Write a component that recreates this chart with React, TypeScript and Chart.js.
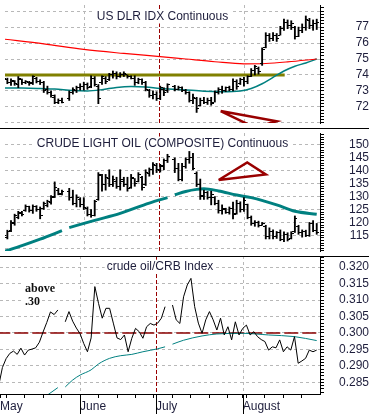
import React, { useEffect, useRef } from 'react';
import { Chart, registerables } from 'chart.js';

Chart.register(...registerables);

// ---------- x axis: weekday index (May 1 = 0 ... Aug 29 = 86) ----------
const X_MIN = 0.35;
const X_MAX = 86.9;
const monthTickIdx = [X_MIN, 22, 42.55, 66];
const monthLabels = ['May', 'June', 'July', 'August'];
const gridMonthIdx = [22, 66];
const markerIdx = 42.55;
const weekTicks = [2, 7, 12, 17, 27, 32, 37, 42, 47, 52, 57, 62, 67, 72, 77, 82];

const N = null;

// ---------- US dollar index (OHLC) ----------
const dxHigh = [73.85, 73.8, 73.75, 73.65, 73.9, 73.75, 73.65, 73.6, 73.95, 73.85, 73.7, 73.6, 73.3, 73.0, 72.75, 72.5, 72.55, N, 73.0, 73.2, 73.3, 73.45, 73.55, 73.5, 73.95, 73.9, 73.4, 73.95, 73.9, 74.1, 74.25, 74.2, 74.15, 74.2, 74.0, 73.95, 73.95, 73.8, 73.75, 73.6, 73.1, 73.0, 72.95, 73.3, 73.2, 73.45, N, 73.35, 73.3, 73.25, 73.1, 72.95, 72.8, 72.6, 72.55, 72.6, 72.55, 72.6, 73.0, 73.2, 73.3, 73.25, 73.3, 73.75, 73.7, 73.8, 73.85, 73.95, 74.4, 74.6, 74.5, 75.7, 76.65, 76.6, 76.65, 76.6, 77.05, 77.5, 77.45, 77.4, 77.05, 77.0, 77.2, 77.7, 77.55, 77.45, 77.5];
const dxLow = [73.5, 73.45, 73.35, 73.35, 73.2, 73.4, 73.45, 73.35, 73.4, 73.5, 73.4, 72.9, 72.8, 72.6, 72.2, 72.2, 72.25, N, 72.4, 72.8, 72.9, 73.05, 73.05, 73.1, 73.2, 73.3, 72.2, 73.4, 73.45, 73.65, 73.8, 73.75, 73.85, 73.9, 73.8, 73.75, 73.35, 73.45, 73.4, 73.0, 72.6, 72.5, 72.4, 72.45, 72.7, 72.9, N, 73.0, 73.05, 72.95, 72.8, 72.3, 72.2, 71.65, 72.05, 72.2, 72.15, 72.1, 72.3, 72.8, 72.85, 72.95, 73.0, 73.0, 73.1, 73.4, 73.3, 73.45, 73.9, 74.0, 74.05, 74.6, 75.7, 76.1, 76.15, 76.1, 76.5, 76.8, 76.9, 76.85, 76.25, 76.4, 76.65, 76.8, 76.9, 76.8, 76.85];
const dxOpen = [73.6, 73.7, 73.5, 73.6, 73.4, 73.7, 73.5, 73.55, 73.5, 73.8, 73.6, 73.5, 73.1, 72.9, 72.6, 72.3, 72.4, N, 72.5, 72.9, 73.0, 73.2, 73.3, 73.4, 73.3, 73.8, 73.3, 73.5, 73.8, 73.7, 74.0, 74.1, 73.9, 74.0, 74.0, 73.9, 73.8, 73.5, 73.7, 73.5, 73.0, 72.7, 72.8, 72.5, 73.1, 73.0, N, 73.3, 73.1, 73.2, 73.0, 72.9, 72.4, 72.5, 72.1, 72.4, 72.3, 72.4, 72.3, 72.9, 73.1, 73.0, 73.2, 73.1, 73.6, 73.45, 73.7, 73.6, 73.9, 74.3, 74.4, 74.7, 75.7, 76.5, 76.3, 76.5, 76.5, 76.9, 77.3, 77.1, 77.0, 76.4, 76.8, 77.0, 77.4, 77.1, 77.2];
const dxClose = [73.75, 73.55, 73.65, 73.45, 73.8, 73.5, 73.6, 73.45, 73.9, 73.6, 73.5, 73.0, 72.9, 72.7, 72.3, 72.4, 72.3, N, 72.9, 73.1, 73.2, 73.3, 73.4, 73.2, 73.8, 73.4, 72.5, 73.9, 73.6, 74.0, 74.1, 73.9, 74.0, 74.1, 73.9, 73.8, 73.5, 73.7, 73.5, 73.1, 72.7, 72.8, 72.5, 73.2, 72.9, 73.4, N, 73.1, 73.2, 73.0, 72.9, 72.4, 72.6, 71.9, 72.4, 72.3, 72.4, 72.2, 72.9, 73.1, 73.0, 73.2, 73.1, 73.6, 73.3, 73.7, 73.6, 73.9, 74.3, 74.5, 74.2, 75.6, 76.5, 76.3, 76.5, 76.3, 76.9, 77.3, 77.1, 77.2, 76.4, 76.8, 77.0, 77.5, 77.1, 77.2, 77.3];
const dxLongMaIdx = [0, 11, 22, 33, 43, 50, 58, 66, 72, 78, 86];
const dxLongMa = [76.25, 75.95, 75.6, 75.35, 75.15, 75.0, 74.83, 74.7, 74.72, 74.82, 75.0];
const dxShortMaIdx = [0, 5, 10, 14, 19, 23, 27, 31, 35, 39, 43, 49, 55, 60, 65, 68, 71, 74, 77, 80, 83, 86];
const dxShortMa = [73.19, 73.18, 73.15, 73.12, 73.02, 73.0, 73.08, 73.22, 73.28, 73.25, 73.15, 73.08, 72.98, 72.95, 73.0, 73.15, 73.45, 73.85, 74.25, 74.55, 74.75, 75.0];
const dxLevel = 74.0;
const dxLevelSpan = [-1, 77.2];
const dxArrowIdx = [59.6, 75.0, 69.0, 59.6];
const dxArrowVal = [71.74, 71.1, 70.7, 71.74];

// ---------- Crude light oil (OHLC) ----------
const oilHigh = [115.5, 117.0, 120.7, 123.2, 124.3, 124.3, 126.8, 126.3, 126.8, 126.5, 126.0, 127.9, 128.6, 130.4, 135.7, 133.2, 132.5, N, 133.2, 132.5, 130.7, 129.6, 129.6, 126.0, 125.0, 128.6, 139.3, 138.6, 138.6, 140.4, 138.0, 137.5, 140.4, 137.5, 137.5, 138.6, 137.0, 139.3, 137.9, 140.4, 141.1, 143.2, 142.9, 142.5, 144.6, 146.4, N, 145.0, 142.9, 142.9, 145.0, 147.5, 146.8, 139.6, 136.8, 132.5, 132.0, 132.1, 130.0, 128.6, 126.8, 125.5, 126.0, 127.9, 128.6, 128.0, 129.6, 127.1, 122.5, 120.7, 120.5, 120.0, 118.9, 117.9, 117.1, 116.5, 117.1, 116.4, 116.0, 116.4, 122.5, 118.9, 117.1, 117.0, 120.0, 120.7, 119.6];
const oilLow = [112.8, 113.6, 116.4, 118.9, 121.4, 122.5, 124.3, 124.0, 123.5, 124.3, 121.4, 125.0, 126.0, 127.1, 129.6, 130.7, 130.7, N, 128.6, 126.8, 126.0, 126.0, 125.0, 122.5, 122.0, 122.5, 128.6, 132.1, 132.5, 133.9, 133.9, 133.2, 132.5, 133.9, 132.1, 133.2, 134.0, 135.7, 132.5, 134.3, 137.9, 138.6, 139.3, 139.5, 140.4, 143.2, N, 139.3, 136.1, 136.1, 141.0, 142.9, 140.4, 133.9, 128.9, 128.9, 129.0, 126.8, 126.8, 123.6, 123.2, 123.5, 123.2, 121.4, 123.2, 124.0, 124.3, 121.4, 118.9, 118.5, 118.2, 118.9, 113.6, 113.6, 113.6, 113.8, 112.9, 112.5, 112.8, 113.6, 116.1, 115.4, 114.3, 114.5, 114.6, 116.4, 115.4];
const oilOpen = [113.5, 114.0, 116.8, 119.5, 122.0, 123.5, 124.5, 126.0, 124.5, 126.0, 125.0, 125.2, 126.5, 127.8, 130.0, 132.5, 131.2, N, 132.0, 129.5, 127.5, 129.0, 127.0, 125.5, 123.0, 122.8, 128.8, 138.0, 134.5, 137.0, 134.5, 136.0, 134.0, 136.0, 134.5, 133.5, 137.0, 136.0, 137.5, 134.5, 139.0, 140.5, 142.0, 140.0, 141.5, 143.8, N, 144.5, 141.0, 136.5, 141.5, 144.5, 145.0, 139.0, 134.5, 130.0, 131.5, 129.5, 129.8, 127.5, 124.5, 125.0, 124.0, 125.5, 123.5, 127.5, 125.0, 127.0, 122.0, 119.5, 120.0, 119.0, 118.5, 114.5, 116.5, 114.5, 116.0, 113.5, 115.5, 113.8, 116.3, 118.5, 116.0, 116.5, 115.0, 119.5, 117.0];
const oilClose = [114.8, 116.5, 120.0, 122.5, 123.8, 123.0, 126.3, 124.8, 126.0, 125.0, 122.5, 127.3, 128.0, 129.8, 133.5, 131.0, 132.0, N, 129.5, 127.5, 129.5, 127.0, 125.8, 123.0, 122.5, 128.0, 138.5, 134.5, 137.5, 134.5, 136.5, 134.0, 136.5, 134.5, 133.0, 137.5, 135.0, 138.5, 133.5, 139.5, 140.5, 142.5, 140.5, 142.0, 144.0, 145.5, N, 141.0, 136.5, 141.5, 144.5, 145.0, 141.0, 134.5, 130.5, 131.5, 129.5, 131.0, 127.5, 124.5, 125.5, 124.0, 125.5, 123.0, 127.5, 125.0, 128.5, 122.0, 119.5, 120.0, 118.8, 119.5, 114.5, 116.5, 114.5, 116.0, 113.5, 115.5, 113.5, 115.8, 121.5, 116.0, 116.5, 115.0, 119.5, 117.0, 116.0];
const oilMaIdx = [0, 5, 10, 16, 17, 18, 25, 32, 40, 45, 46, 47, 50, 53, 55, 59, 64, 68, 75, 80, 86];
const oilMa = [108.7, 111.0, 113.5, 116.8, N, 118.0, 120.8, 123.5, 127.5, 129.6, N, 130.7, 132.0, 132.8, 133.0, 132.2, 130.6, 129.6, 126.8, 124.3, 123.2];
const oilTriIdx = [59.05, 66.9, 72.0, 59.05];
const oilTriVal = [136.43, 143.21, 138.57, 136.43];

// ---------- crude oil / CRB index ----------
const crbRatio = [0.284, 0.2895, 0.2922, 0.2938, 0.2945, 0.2935, 0.2954, 0.2933, 0.2948, 0.2951, 0.2955, 0.2972, 0.3003, 0.3032, 0.3064, 0.3056, 0.307, N, 0.3034, 0.3065, 0.3036, 0.3015, 0.2998, 0.2968, 0.2943, 0.2985, 0.3141, 0.309, 0.3045, 0.3075, 0.3075, 0.303, 0.2985, 0.298, 0.2994, 0.2943, 0.2984, 0.3014, 0.3004, 0.2984, 0.3019, 0.3029, 0.3024, 0.303, 0.3045, 0.308, N, 0.3085, 0.304, 0.3029, 0.311, 0.3146, 0.3166, 0.308, 0.303, 0.2999, 0.304, 0.3065, 0.304, 0.3009, 0.3045, 0.2994, 0.3019, 0.2979, 0.3034, 0.2994, 0.3014, 0.3024, 0.2994, 0.3004, 0.2989, 0.298, 0.2974, 0.2948, 0.2958, 0.2955, 0.2979, 0.2943, 0.2958, 0.2948, 0.2989, 0.2908, 0.2915, 0.2923, 0.2948, 0.2943, 0.2948];
const crbMaIdx = [13, 16, 17, 18, 20, 22, 25, 27, 30, 33, 36, 39, 43, 45, 46, 47, 50, 55, 59, 66, 73, 80, 86];
const crbMa = [0.281, 0.2834, N, 0.2836, 0.2857, 0.2872, 0.2888, 0.2906, 0.2923, 0.2931, 0.2935, 0.2943, 0.2952, 0.2958, N, 0.2966, 0.2978, 0.2991, 0.2997, 0.2999, 0.2994, 0.2989, 0.2977];
const crbRefLevel = 0.3;
const noteText = ['above', '.30'];
const noteIdx = 7.1;
const noteVal = [0.31255, 0.3085];

// ---------- styling ----------
const FONT = "'Liberation Sans', Arial, Helvetica, sans-serif";
const INK = '#1e1e3c';
const GRID = '#b8b8b8';
const MARK_RED = '#990000';
const TEAL = '#008080';

function buildTicks(min: number, max: number, step: number) {
  const out: any[] = [];
  for (let k = Math.ceil(min / step - 1e-9); k * step <= max + 1e-9; k++) {
    out.push({ value: +(k * step).toFixed(6) });
  }
  return out;
}
const isMult = (v: number, m: number) => Math.abs(v / m - Math.round(v / m)) < 1e-6;

function yAxis(p: any) {
  return {
    type: 'linear',
    position: 'right',
    min: p.min,
    max: p.max,
    bounds: 'data',
    beginAtZero: false,
    afterBuildTicks: (s: any) => {
      s.ticks = buildTicks(p.min, p.max, p.minor);
    },
    afterFit: (s: any) => {
      s.width = 49;
      s.paddingTop = 0;
      s.paddingBottom = 0;
    },
    grid: {
      color: (c: any) => (c.tick && isMult(c.tick.value, p.major) ? GRID : 'rgba(0,0,0,0)'),
      tickColor: '#000',
      tickLength: 4,
      lineWidth: 1,
      drawTicks: true,
    },
    border: { display: true, color: '#000', width: 1, dash: [3, 3] },
    ticks: {
      autoSkip: false,
      crossAlign: 'far',
      padding: p.pad,
      color: INK,
      font: { family: FONT, size: 12 },
      callback: (v: number) =>
        isMult(v, p.major) && v >= p.labelMin - 1e-9 && v <= p.labelMax + 1e-9 ? Number(v).toFixed(p.digits) : '',
    },
  };
}

function xAxis(show: boolean) {
  const tickVals = [...weekTicks, ...monthTickIdx].sort((a, b) => a - b);
  return {
    type: 'linear',
    display: show,
    min: X_MIN,
    max: X_MAX,
    bounds: 'data',
    offset: false,
    afterBuildTicks: (s: any) => {
      s.ticks = tickVals.map((v) => ({ value: v }));
    },
    afterFit: (s: any) => {
      s.height = show ? 20 : 0;
      s.paddingLeft = 0;
      s.paddingRight = 0;
    },
    grid: { drawOnChartArea: false, drawTicks: true, tickLength: 4, tickColor: '#000', color: '#000', offset: false },
    border: { display: true, color: '#000', width: 1 },
    ticks: {
      autoSkip: false,
      maxRotation: 0,
      minRotation: 0,
      align: 'start',
      padding: 1,
      color: INK,
      font: { family: FONT, size: 12 },
      callback: (v: number) => {
        const k = monthTickIdx.findIndex((m) => Math.abs(m - v) < 1e-6);
        return k >= 0 ? monthLabels[k] : '';
      },
    },
  };
}

function makeTickImage(side: 'open' | 'close') {
  const c = document.createElement('canvas');
  c.width = 5;
  c.height = 1;
  const g = c.getContext('2d')!;
  g.fillStyle = '#000';
  g.fillRect(side === 'open' ? 0 : 3, 0, 2, 1);
  return c;
}

function ohlcSets(high: any[], low: any[], open: any[], close: any[], imgs: any) {
  const idx = high.map((_, i) => i).filter((i) => high[i] != null);
  return [
    {
      type: 'bar',
      data: idx.map((i) => ({ x: i, y: [low[i], high[i]] })),
      backgroundColor: '#000',
      borderWidth: 0,
      borderSkipped: false,
      barThickness: 1.2,
      order: 1,
    },
    {
      type: 'scatter',
      data: idx.map((i) => ({ x: i, y: open[i] })),
      pointStyle: imgs.open,
      pointRadius: 2,
      order: 1,
    },
    {
      type: 'scatter',
      data: idx.map((i) => ({ x: i, y: close[i] })),
      pointStyle: imgs.close,
      pointRadius: 2,
      order: 1,
    },
  ];
}

function lineSet(xs: number[], ys: any[], color: string, width: number, extra: any = {}) {
  return {
    type: 'line',
    data: xs.map((x, i) => ({ x, y: ys[i] })),
    borderColor: color,
    borderWidth: width,
    pointRadius: 0,
    fill: false,
    spanGaps: false,
    tension: 0,
    order: 2,
    ...extra,
  };
}

function decorPlugin(o: any) {
  return {
    id: 'decor',
    beforeDatasetsDraw(chart: any) {
      const { ctx, chartArea: a, scales } = chart;
      const x = scales.x;
      const y = scales.y;
      ctx.save();
      ctx.lineWidth = 1;
      ctx.strokeStyle = GRID;
      ctx.setLineDash([3, 3]);
      gridMonthIdx.forEach((m) => {
        const px = Math.round(x.getPixelForValue(m)) + 0.5;
        ctx.beginPath();
        ctx.moveTo(px, a.top);
        ctx.lineTo(px, a.bottom);
        ctx.stroke();
      });
      ctx.strokeStyle = MARK_RED;
      ctx.setLineDash([4, 2]);
      const mx = Math.round(x.getPixelForValue(markerIdx)) + 0.5;
      ctx.beginPath();
      ctx.moveTo(mx, a.top);
      ctx.lineTo(mx, a.bottom);
      ctx.stroke();
      ctx.setLineDash([]);

      ctx.font = `12px ${FONT}`;
      const w = ctx.measureText(o.title).width;
      const cx = (a.left + a.right) / 2;
      const cy = a.top + o.titleY;
      ctx.fillStyle = '#fff';
      ctx.fillRect(cx - w / 2 - 2, cy - 7, w + 4, 14);
      ctx.fillStyle = INK;
      ctx.textAlign = 'center';
      ctx.textBaseline = 'middle';
      ctx.fillText(o.title, cx, cy);

      if (o.notes) {
        ctx.font = `bold 12px 'Liberation Serif', 'Times New Roman', serif`;
        ctx.textAlign = 'left';
        ctx.textBaseline = 'alphabetic';
        const nx = x.getPixelForValue(noteIdx);
        noteText.forEach((t, i) => {
          const ny = y.getPixelForValue(noteVal[i]);
          const tw = ctx.measureText(t).width;
          ctx.fillStyle = '#fff';
          ctx.fillRect(nx - 1, ny - 10, tw + 2, 13);
          ctx.fillStyle = '#111';
          ctx.fillText(t, nx, ny);
        });
      }
      ctx.restore();
      ctx.imageSmoothingEnabled = false;
    },
    afterDraw(chart: any) {
      const { ctx, chartArea: a, scales, width, height } = chart;
      ctx.save();
      ctx.strokeStyle = '#000';
      ctx.lineWidth = 1;
      ctx.setLineDash([]);
      if (o.separator) {
        ctx.beginPath();
        ctx.moveTo(0, 0.5);
        ctx.lineTo(width, 0.5);
        ctx.stroke();
      }
      if (o.longTicks) {
        monthTickIdx.forEach((m) => {
          if (m <= X_MIN) return;
          const px = Math.round(scales.x.getPixelForValue(m)) + 0.5;
          ctx.beginPath();
          ctx.moveTo(px, a.bottom);
          ctx.lineTo(px, height);
          ctx.stroke();
        });
      }
      ctx.restore();
    },
  };
}

function baseOptions(scales: any) {
  return {
    animation: false,
    responsive: false,
    maintainAspectRatio: false,
    devicePixelRatio: 1,
    events: [],
    layout: { padding: 0 },
    plugins: { legend: { display: false }, tooltip: { enabled: false }, title: { display: false } },
    scales,
  };
}

export default function App() {
  const r1 = useRef<HTMLCanvasElement>(null);
  const r2 = useRef<HTMLCanvasElement>(null);
  const r3 = useRef<HTMLCanvasElement>(null);

  useEffect(() => {
    Chart.defaults.font.family = FONT;
    const imgs = { open: makeTickImage('open'), close: makeTickImage('close') };

    const c1 = new Chart(r1.current as any, {
      type: 'line',
      data: {
        datasets: [
          ...ohlcSets(dxHigh, dxLow, dxOpen, dxClose, imgs),
          lineSet(dxLongMaIdx, dxLongMa, '#ff0000', 1.2, { cubicInterpolationMode: 'monotone' }),
          lineSet(dxShortMaIdx, dxShortMa, TEAL, 1.5, { cubicInterpolationMode: 'monotone' }),
          lineSet(dxLevelSpan, dxLevelSpan.map(() => dxLevel), '#808000', 3),
          lineSet(dxArrowIdx, dxArrowVal, MARK_RED, 2.5, { order: 0 }),
        ] as any,
      },
      options: baseOptions({
        x: xAxis(false),
        y: yAxis({ min: 70.988, max: 78.387, minor: 0.2, major: 1, labelMin: 72, labelMax: 77, digits: 0, pad: 27 }),
      }) as any,
      plugins: [decorPlugin({ title: 'US DLR IDX Continuous', titleY: 11.5 })],
    } as any);

    const c2 = new Chart(r2.current as any, {
      type: 'line',
      data: {
        datasets: [
          ...ohlcSets(oilHigh, oilLow, oilOpen, oilClose, imgs),
          lineSet(oilMaIdx, oilMa, TEAL, 3, { cubicInterpolationMode: 'monotone' }),
          lineSet(oilTriIdx, oilTriVal, MARK_RED, 2.5, { order: 0 }),
        ] as any,
      },
      options: baseOptions({
        x: xAxis(false),
        y: yAxis({ min: 108.93, max: 154.64, minor: 1, major: 5, labelMin: 115, labelMax: 150, digits: 0, pad: 20 }),
      }) as any,
      plugins: [decorPlugin({ title: 'CRUDE LIGHT OIL (COMPOSITE) Continuous', titleY: 10.5, separator: true })],
    } as any);

    const ratioIdx = crbRatio.map((_, i) => i);
    const c3 = new Chart(r3.current as any, {
      type: 'line',
      data: {
        datasets: [
          lineSet(ratioIdx, crbRatio, '#000', 1, { order: 0 }),
          lineSet(crbMaIdx, crbMa, TEAL, 1, { cubicInterpolationMode: 'monotone' }),
          lineSet([X_MIN - 1, X_MAX + 1], [crbRefLevel, crbRefLevel], '#8b0000', 1.5, { borderDash: [14, 4], order: 3 }),
        ] as any,
      },
      options: baseOptions({
        x: xAxis(true),
        y: yAxis({ min: 0.28146, max: 0.3234, minor: 0.001, major: 0.005, labelMin: 0.285, labelMax: 0.32, digits: 3, pad: 10 }),
      }) as any,
      plugins: [decorPlugin({ title: 'crude oil/CRB Index', titleY: 10.7, separator: true, longTicks: true, notes: true })],
    } as any);

    return () => {
      c1.destroy();
      c2.destroy();
      c3.destroy();
    };
  }, []);

  return (
    <div style={{ position: 'absolute', left: 0, top: 0, width: 369, height: 414, background: '#fff', overflow: 'hidden' }}>
      <canvas ref={r1} width={369} height={128} style={{ position: 'absolute', left: 0, top: 0, display: 'block' }} />
      <canvas ref={r2} width={369} height={128} style={{ position: 'absolute', left: 0, top: 128, display: 'block' }} />
      <canvas ref={r3} width={369} height={158} style={{ position: 'absolute', left: 0, top: 256, display: 'block' }} />
    </div>
  );
}
